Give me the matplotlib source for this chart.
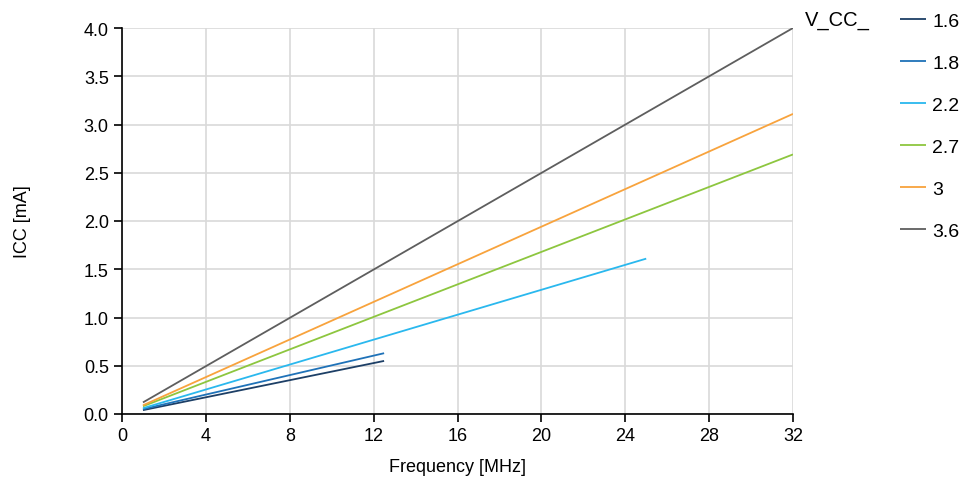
import matplotlib
matplotlib.use("Agg")
import matplotlib.pyplot as plt

plt.rcParams['font.family'] = ['Liberation Sans', 'DejaVu Sans']

series_names = ["1.6", "1.8", "2.2", "2.7", "3", "3.6"]
freq_1_6 = [1, 12.5]
icc_1_6 = [0.04, 0.55]
freq_1_8 = [1, 12.5]
icc_1_8 = [0.05, 0.63]
freq_2_2 = [1, 25]
icc_2_2 = [0.06, 1.61]
freq_2_7 = [1, 32]
icc_2_7 = [0.08, 2.69]
freq_3 = [1, 32]
icc_3 = [0.09, 3.11]
freq_3_6 = [1, 32]
icc_3_6 = [0.12, 4.0]
colors = ["#1d3f66", "#1f72b8", "#2ab8ee", "#8dc63f", "#f8a33d", "#5e5e5e"]
xticks = [0, 4, 8, 12, 16, 20, 24, 28, 32]
yticks = [0.0, 0.5, 1.0, 1.5, 2.0, 2.5, 3.0, 3.5, 4.0]

fig = plt.figure(figsize=(9.64, 4.85), dpi=100)
ax = fig.add_axes([122/964, 1-415/485, (793-122)/964, (415-29)/485])

xs = [freq_1_6, freq_1_8, freq_2_2, freq_2_7, freq_3, freq_3_6]
ys = [icc_1_6, icc_1_8, icc_2_2, icc_2_7, icc_3, icc_3_6]
for name, x, y, c in zip(series_names, xs, ys, colors):
    ax.plot(x, y, color=c, lw=1.3, label=name, solid_capstyle='butt')

ax.set_xlim(0, 32)
ax.set_ylim(0, 4.0)
ax.set_xticks(xticks)
ax.set_yticks(yticks)
ax.set_yticklabels([f"{v:.1f}" for v in yticks])
ax.grid(True, color="#d9d9d9", lw=1.2)
ax.set_axisbelow(True)
for s in ["top", "right"]:
    ax.spines[s].set_visible(False)
for s in ["left", "bottom"]:
    ax.spines[s].set_color("black")
    ax.spines[s].set_linewidth(1.2)
ax.tick_params(direction="out", length=6, width=1.2, colors="black", labelsize=13)
ax.set_xlabel("Frequency [MHz]", fontsize=13, labelpad=10)
ax.set_ylabel("ICC [mA]", fontsize=13, labelpad=38)

fig.text(805/964, 1-20/485, "V_CC_", fontsize=14.5, va="center", ha="left")
leg = ax.legend(loc="upper left", bbox_to_anchor=(900/964, 1-13/485), bbox_transform=fig.transFigure,
                frameon=False, fontsize=14, handlelength=1.35, handletextpad=0.3,
                labelspacing=1.26, borderpad=0, borderaxespad=0)

fig.savefig("out.png", dpi=100)
